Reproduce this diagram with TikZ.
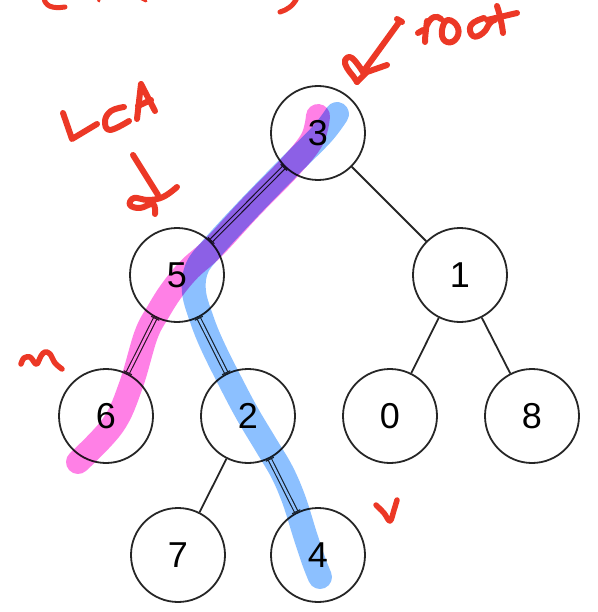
\documentclass[tikz,border=0pt]{standalone}
\usepackage{fontspec}
\newfontfamily\labelfont{Liberation Sans}
\usetikzlibrary{arrows.meta}
\definecolor{inkred}{RGB}{236,56,38}
\definecolor{hlpink}{RGB}{255,128,230}
\definecolor{hlblue}{RGB}{140,192,255}

\begin{document}
\begin{tikzpicture}[x=1pt,y=-1pt,
  vert/.style={circle,draw=black!85,line width=1.8pt,minimum size=94pt,inner sep=0pt,
    font=\labelfont\fontsize{36}{36}\selectfont},
  edge/.style={draw=black!85,line width=1.8pt},
  pathedge/.style={draw=black!85,line width=1.1pt,double=white,double distance=2.4pt,
    {Bar[width=9pt,line width=1.1pt]}-{Bar[width=9pt,line width=1.1pt]}},
  ink/.style={draw=inkred,line width=6pt,line cap=round,line join=round},
  marker/.style={line width=24pt,line cap=round,line join=round}]
\useasboundingbox (0,0) rectangle (597,612);

% tree vertices
\node[vert] (n3) at (318,133) {3};
\node[vert] (n5) at (177,275) {5};
\node[vert] (n1) at (460,275) {1};
\node[vert] (n6) at (106,416) {6};
\node[vert] (n2) at (248,416) {2};
\node[vert] (n0) at (390,416) {0};
\node[vert] (n8) at (532,416) {8};
\node[vert] (n7) at (178,555) {7};
\node[vert] (n4) at (318,555) {4};

% plain edges
\draw[edge] (n3) -- (n1);
\draw[edge] (n1) -- (n0);
\draw[edge] (n1) -- (n8);
\draw[edge] (n2) -- (n7);

% edges along the marked paths
\draw[pathedge] (n3) -- (n5);
\draw[pathedge] (n5) -- (n6);
\draw[pathedge] (n5) -- (n2);
\draw[pathedge] (n2) -- (n4);

% highlighter strokes
\begin{scope}[blend mode=multiply]
  \draw[marker,hlpink] plot[smooth,tension=0.6] coordinates {
    (318,116) (312,139.5) (289.5,167.5) (250.5,207.5) (213.5,247.5) (189.5,269)
    (172,290) (158,312) (146,335) (131,385) (113,425) (78,462)};
  \draw[marker,hlblue] plot[smooth,tension=0.6] coordinates {
    (337,114) (322,134) (289,167) (250,207) (213,247) (197,268) (194,292)
    (202,320) (213,347) (232,385) (248,415) (266,445) (282,472)
    (294,500) (305,535) (314,562) (320,577)};
\end{scope}

% handwritten notes
% "root" and its arrow
\draw[ink] (427,21) .. controls (426,30) and (425,36) .. (425,42);
\draw[ink] (418,33) -- (423,30);
\draw[ink] (427,25) .. controls (431,16) and (437,15) .. (441,19);
\draw[ink] plot[smooth cycle,tension=0.8] coordinates {(448,20) (442,30) (445,41) (455,40) (458,28)};
\draw[ink] plot[smooth,tension=0.8] coordinates {(484,18) (471,25) (473,36) (483,33) (490,23) (495,20)};
\draw[ink] (497,6) .. controls (500,15) and (502,25) .. (503,33);
\draw[ink] (487,20) -- (517,13);
\draw[ink] (400,21) -- (363,72);
\draw[ink] (397,19) -- (402,22);
\draw[ink] plot[smooth,tension=0.7] coordinates {(363,72) (352,58) (345,60) (347,68) (353,76) (357,82)};
\draw[ink] (387,65) -- (367,72) -- (357,82);

% "LCA" and its arrow
\draw[ink] (63,113) -- (72,139) -- (97,124);
\draw[ink] plot[smooth,tension=0.7] coordinates {(124,107) (111,111) (105,121) (110,130) (129,121)};
\draw[ink] (137,119) -- (141,84) -- (155,111);
\draw[ink] (138,106) -- (151,100);
\draw[ink] (133,155) -- (158,195);
\draw[ink] plot[smooth,tension=0.7] coordinates {(177,187) (163,197) (148,200) (134,198) (130,205) (140,208) (153,204) (155,214)};

% "u" and "v"
\draw[ink,line width=5.5pt] plot[smooth,tension=0.6] coordinates {
  (21,364) (24,358) (30,357) (34,362) (37,364) (41,356) (45,352) (50,354) (55,363) (62,369)};
\draw[ink,line width=5.5pt] plot[smooth,tension=0.6] coordinates {(376,505) (384,513) (390,521) (394,510) (397,500)};

% strokes running off the top edge
\draw[ink,line width=5pt] (44,-2) .. controls (45,6) and (52,9) .. (65,7);
\draw[ink,line width=5pt] (297,-2) .. controls (293,6) and (287,10) .. (280,12);
\draw[ink,line width=3pt] (98,-2) -- (99,1);
\draw[ink,line width=3pt] (140,-2) -- (146,1);
\end{tikzpicture}
\end{document}
